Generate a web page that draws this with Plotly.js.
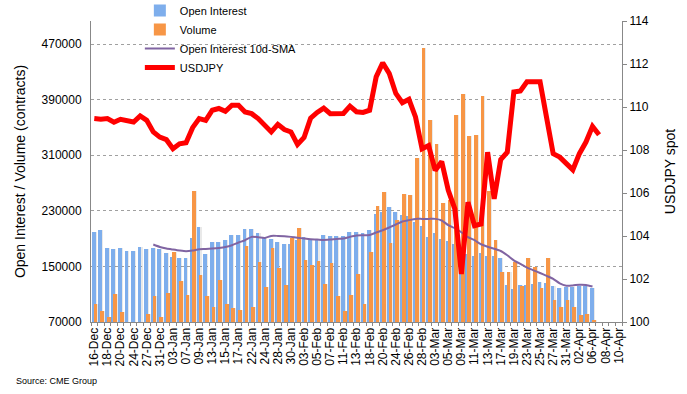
<!DOCTYPE html>
<html><head><meta charset="utf-8">
<script src="https://cdn.plot.ly/plotly-3.0.1.min.js"></script>
<style>html,body{margin:0;padding:0;background:#fff}#chart{width:687px;height:394px}</style>
</head><body><div id="chart"></div>
<script>
const dates = ['16-Dec','17-Dec','18-Dec','19-Dec','20-Dec','23-Dec','24-Dec','26-Dec','27-Dec','30-Dec','31-Dec',
'02-Jan','03-Jan','06-Jan','07-Jan','08-Jan','09-Jan','10-Jan','13-Jan','14-Jan','15-Jan','16-Jan','17-Jan','21-Jan','22-Jan','23-Jan','24-Jan','27-Jan','28-Jan','29-Jan','30-Jan','31-Jan',
'03-Feb','04-Feb','05-Feb','06-Feb','07-Feb','10-Feb','11-Feb','12-Feb','13-Feb','14-Feb','18-Feb','19-Feb','20-Feb','21-Feb','24-Feb','25-Feb','26-Feb','27-Feb','28-Feb',
'02-Mar','03-Mar','04-Mar','05-Mar','06-Mar','09-Mar','10-Mar','11-Mar','12-Mar','13-Mar','16-Mar','17-Mar','18-Mar','19-Mar','20-Mar','23-Mar','24-Mar','25-Mar','26-Mar','27-Mar','30-Mar','31-Mar',
'01-Apr','02-Apr','03-Apr','06-Apr','07-Apr','08-Apr','09-Apr','10-Apr'];

const openInterest = [199200,202100,176100,174700,176100,171800,171800,177600,174700,176100,174700,
168900,163100,161700,161700,190600,206500,167500,184800,184800,187700,194900,194900,203600,203600,197800,190600,189100,184800,181900,181900,187700,
192500,190100,187700,194900,193500,193500,193500,199200,199200,198200,203100,225200,228100,235300,228100,223800,222300,213700,208300,
192000,198200,189100,186200,182900,158800,167500,164600,169400,164600,164600,161700,122700,117400,122700,122700,124200,127000,125600,121300,118400,119800,
119800,121300,121300,118400];

const volume = [95300,85200,76900,109700,83700,62000,58000,60000,80800,106800,77900,
111200,170800,128500,108300,258400,137100,106800,91000,129900,95300,89500,86600,179000,91000,155900,119800,176100,147300,122700,190600,205000,
158800,151600,157400,124200,154500,106800,85200,108300,138600,95300,170400,236800,257000,183400,216400,254100,252700,306100,464900,
361000,326300,241100,245000,368200,398500,337900,339400,395600,258400,187700,141500,141500,155900,121300,161700,148700,118400,161700,101000,91000,101000,
91000,79400,80800,72200];

const oiSMA = [null,null,null,null,null,null,null,null,null,181500,178000,
175700,174200,172800,171800,172800,174700,175100,175700,176600,178000,180500,184400,187700,192500,192000,191000,193900,193900,193500,192500,191300,
190100,189100,188700,188100,188700,189600,190100,192500,194500,194900,195300,198800,202100,206000,210300,214700,216600,218400,218400,
218400,218400,216100,209400,205000,199200,192000,187700,181900,178300,175400,172200,166000,158800,153500,148300,144400,140500,136400,132100,125600,122300,
122700,123700,123400,121000];

const usdjpy = [109.46,109.43,109.46,109.29,109.43,109.38,109.30,109.58,109.38,108.84,108.60,
108.48,108.06,108.29,108.34,109.04,109.46,109.38,109.85,109.93,109.80,110.08,110.08,109.77,109.69,109.46,109.15,108.84,109.19,108.95,108.84,108.26,
108.58,109.48,109.75,109.95,109.69,109.69,109.70,110.04,109.78,109.75,109.85,111.40,112.05,111.56,110.63,110.20,110.36,109.54,108.06,
108.21,107.05,107.46,106.12,105.26,102.23,105.57,104.48,104.56,107.90,105.73,107.55,107.90,110.70,110.75,111.17,111.17,111.17,109.50,107.83,107.67,107.39,
107.08,107.83,108.37,109.10,108.71];

const leftTicks = [70000,150000,230000,310000,390000,470000];
const rightTicks = [100,102,104,106,108,110,112,114];

const nBars = openInterest.length;
const barDates = dates.slice(0, nBars);
const fxDates = dates.slice(0, usdjpy.length);

const font = 'Arial, "Liberation Sans", sans-serif';

const traces = [
  {type:'bar', x: barDates, y: openInterest, yaxis:'y', showlegend:false, hoverinfo:'skip',
   marker:{color:'rgba(120,120,120,0.16)'}, width:0.58, offset:-0.22},
  {type:'bar', name:'Open Interest', x: barDates, y: openInterest, yaxis:'y',
   marker:{color:'#7eaeec'}, width:0.58, offset:-0.38},
  {type:'bar', x: barDates, y: volume, yaxis:'y', showlegend:false, hoverinfo:'skip',
   marker:{color:'rgba(120,120,120,0.16)'}, width:0.57, offset:0.08},
  {type:'bar', name:'Volume', x: barDates, y: volume, yaxis:'y',
   marker:{color:'#f79646'}, width:0.57, offset:-0.08},
  {type:'scatter', mode:'lines', name:'Open Interest 10d-SMA', x: barDates, y: oiSMA, yaxis:'y',
   line:{color:'#8064a2', width:2, shape:'spline', smoothing:0.6}},
  {type:'scatter', mode:'lines', name:'USDJPY', x: fxDates, y: usdjpy, yaxis:'y2',
   line:{color:'#ff0000', width:5}}
];

const layout = {
  width:687, height:394,
  margin:{l:91, r:65, t:21, b:72, autoexpand:false},
  paper_bgcolor:'#fff', plot_bgcolor:'#fff',
  font:{family:font, color:'#000', size:12},
  barmode:'overlay', bargap:0,
  showlegend:true,
  legend:{x:0.092, xanchor:'left', y:1.083, yanchor:'top', bgcolor:'rgba(0,0,0,0)',
          font:{family:font, size:11, color:'#000'}, traceorder:'normal', tracegroupgap:0},
  xaxis:{type:'category', categoryorder:'array', categoryarray:dates, range:[-0.5, dates.length-0.5],
         tickmode:'array', tickvals:dates, ticktext:dates.map((d,i)=> i%2===0 ? d : ''),
         tickangle:-90, tickson:'boundaries', ticks:'outside', ticklen:3, tickcolor:'#888',
         showline:true, linecolor:'#888', linewidth:1, showgrid:false, zeroline:false,
         tickfont:{family:font, size:12, color:'#000'}, fixedrange:true},
  yaxis:{range:[70000, 503150], tickmode:'array', tickvals:leftTicks, ticktext:leftTicks.map(String),
         showline:true, linecolor:'#888', linewidth:1, ticks:'', showgrid:true, gridcolor:'#a0a0a0',
         griddash:'dot', gridwidth:1, zeroline:false, tickfont:{family:font, size:12, color:'#000'},
         ticklabelstandoff:6,
         title:{text:'Open Interest / Volume (contracts)', font:{family:font, size:14, color:'#000'}, standoff:12}},
  yaxis2:{range:[100,114], overlaying:'y', side:'right', tickmode:'array', tickvals:rightTicks,
          ticktext:rightTicks.map(String), showline:true, linecolor:'#888', linewidth:1,
          ticks:'outside', ticklen:4, tickcolor:'#888', showgrid:false, zeroline:false,
          tickfont:{family:font, size:12, color:'#000'},
          title:{text:'USDJPY spot', font:{family:font, size:14, color:'#000'}, standoff:16}},
  annotations:[{text:'Source: CME Group', xref:'paper', yref:'paper', x:-0.145, y:-0.196,
                xanchor:'left', yanchor:'middle', showarrow:false, font:{family:font, size:9, color:'#000'}}]
};

Plotly.newPlot('chart', traces, layout, {displayModeBar:false, staticPlot:true});
</script></body></html>
